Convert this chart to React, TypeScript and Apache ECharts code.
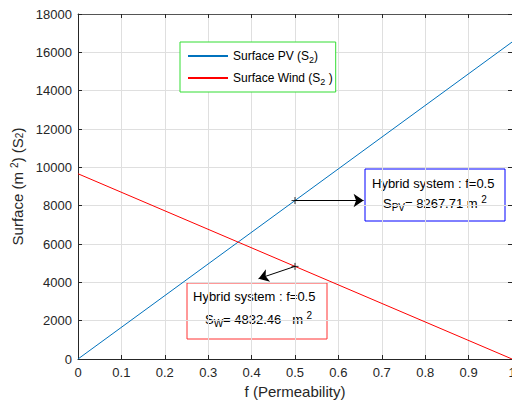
import React, { useEffect, useRef } from 'react';
import * as echarts from 'echarts';

const fValues = [0, 0.5, 1];
const surfacePV = [0, 8267.71, 16535.42];
const surfaceWind = [9664.92, 4832.46, 0];
const seriesNames = ['Surface PV', 'Surface Wind'];
const legendLabels = ['Surface PV (S{sub|2})', 'Surface Wind (S{sub|2} )'];
const markedPoints = [[0.5, 8267.71], [0.5, 4832.46]];
const pvArrow = [[0.5, 8267.71], [0.658, 8267.71]];
const windArrow = [[0.5, 4832.46], [0.416, 4190]];
const pvBoxLines = ['Hybrid system : f=0.5', 'S{sub|PV}= 8267.71 m {sup|2}'];
const windBoxLines = ['Hybrid system : f=0.5', 'S{sub|W}= 4832.46   m {sup|2}'];

const FONT = 'Liberation Sans, Arial, Helvetica, sans-serif';
const TXT = '#262626';

export default function App() {
  const ref = useRef<HTMLDivElement>(null);
  useEffect(() => {
    if (!ref.current) return;
    const chart = echarts.init(ref.current, undefined, { renderer: 'svg' });
    const gridL = 78, gridT = 14, gridW = 434, gridH = 345;
    const box = (x: number, y: number, w: number, h: number, color: string, lines: string[], x1: number, y1: number, x2: number, y2: number) => ({
      type: 'group',
      children: [
        { type: 'rect', shape: { x, y, width: w, height: h }, style: { fill: '#fff', stroke: color, lineWidth: 1 } },
        { type: 'text', x: x1, y: y1, style: { text: lines[0], fontSize: 13, fontFamily: FONT, fill: '#000', align: 'left', verticalAlign: 'middle' } },
        { type: 'text', x: x2, y: y2, style: { text: lines[1], fontSize: 13, fontFamily: FONT, fill: '#000', align: 'left', verticalAlign: 'middle', lineHeight: 18, rich: {
          sub: { fontSize: 10, lineHeight: 8, verticalAlign: 'bottom', fontFamily: FONT, fill: '#000' },
          sup: { fontSize: 10, lineHeight: 8, verticalAlign: 'top', fontFamily: FONT, fill: '#000' },
        } } },
      ],
    });
    chart.setOption({
      animation: false,
      backgroundColor: '#fff',
      grid: { left: gridL, top: gridT, width: gridW, height: gridH, containLabel: false, outerBoundsMode: 'none' },
      legend: {
        data: seriesNames,
        orient: 'vertical',
        left: 180,
        top: 42,
        padding: [6, 3, 6, 8],
        itemGap: 6,
        itemWidth: 40,
        itemHeight: 2,
        icon: 'rect',
        borderColor: '#33dd33',
        borderWidth: 1,
        backgroundColor: '#fff',
        formatter: (name: string) => legendLabels[seriesNames.indexOf(name)],
        textStyle: { fontSize: 12, fontFamily: FONT, color: '#000', lineHeight: 16, rich: {
          sub: { fontSize: 9, lineHeight: 8, verticalAlign: 'bottom', fontFamily: FONT, color: '#000' },
        } },
      },
      xAxis: [
        {
          type: 'value', min: 0, max: 1, interval: 0.1, position: 'bottom',
          name: 'f (Permeability)', nameLocation: 'middle', nameGap: 25,
          nameTextStyle: { fontSize: 15, fontFamily: FONT, color: TXT },
          axisLine: { show: true, lineStyle: { color: TXT, width: 1 } },
          axisTick: { show: true, inside: true, length: 4, lineStyle: { color: TXT } },
          axisLabel: { fontSize: 13, fontFamily: FONT, color: TXT, margin: 7, formatter: (v: number) => String(Math.round(v * 10) / 10) },
          splitLine: { show: true, lineStyle: { color: '#dfdfdf', width: 1 } },
        },
        {
          type: 'value', min: 0, max: 1, interval: 0.1, position: 'top',
          axisLine: { show: true, onZero: false, lineStyle: { color: '#555', width: 1 } },
          axisTick: { show: true, inside: true, length: 4, lineStyle: { color: TXT } },
          axisLabel: { show: false },
          splitLine: { show: false },
        },
      ],
      yAxis: [
        {
          type: 'value', min: 0, max: 18000, interval: 2000, position: 'left',
          name: 'Surface (m {sup|2}) (S{sub|2})', nameLocation: 'middle', nameGap: 47, nameRotate: 90,
          nameTextStyle: { fontSize: 15, fontFamily: FONT, color: TXT, rich: {
            sup: { fontSize: 10, lineHeight: 10, verticalAlign: 'top', fontFamily: FONT, color: TXT },
            sub: { fontSize: 10, lineHeight: 10, verticalAlign: 'bottom', fontFamily: FONT, color: TXT },
          } },
          axisLine: { show: true, lineStyle: { color: TXT, width: 1 } },
          axisTick: { show: true, inside: true, length: 4, lineStyle: { color: TXT } },
          axisLabel: { fontSize: 13, fontFamily: FONT, color: TXT, margin: 6, formatter: (v: number) => String(v) },
          splitLine: { show: true, lineStyle: { color: '#dfdfdf', width: 1 } },
        },
        {
          type: 'value', min: 0, max: 18000, interval: 2000, position: 'right',
          axisLine: { show: true, onZero: false, lineStyle: { color: '#555', width: 1 } },
          axisTick: { show: true, inside: true, length: 4, lineStyle: { color: TXT } },
          axisLabel: { show: false },
          splitLine: { show: false },
        },
      ],
      series: [
        {
          name: seriesNames[0], type: 'line', showSymbol: false, symbol: 'none',
          data: fValues.map((f, i) => [f, surfacePV[i]]),
          lineStyle: { color: '#0072BD', width: 1 }, itemStyle: { color: '#0072BD' },
        },
        {
          name: seriesNames[1], type: 'line', showSymbol: false, symbol: 'none',
          data: fValues.map((f, i) => [f, surfaceWind[i]]),
          lineStyle: { color: '#ff0000', width: 1 }, itemStyle: { color: '#ff0000' },
        },
        {
          name: 'markers', type: 'scatter', symbol: 'path://M0,5L10,5M5,0L5,10', symbolSize: 7,
          data: markedPoints,
          itemStyle: { color: 'rgba(0,0,0,0)', borderColor: '#000', borderWidth: 1 },
          z: 5,
        },
        {
          name: 'arrows', type: 'lines', coordinateSystem: 'cartesian2d',
          symbol: ['none', 'arrow'], symbolSize: 10,
          lineStyle: { color: '#000', width: 1, opacity: 1 },
          data: [{ coords: pvArrow }, { coords: windArrow }],
          z: 6,
        },
      ],
      graphic: [
        box(365, 169, 140, 52, '#0000ff', pvBoxLines, 372, 183, 383, 203),
        box(187, 283, 140, 56, '#ff3333', windBoxLines, 193, 296, 205, 319),
      ],
    });
    return () => chart.dispose();
  }, []);
  return <div ref={ref} style={{ position: 'absolute', left: 0, top: 0, width: 512, height: 406, background: '#fff' }} />;
}
